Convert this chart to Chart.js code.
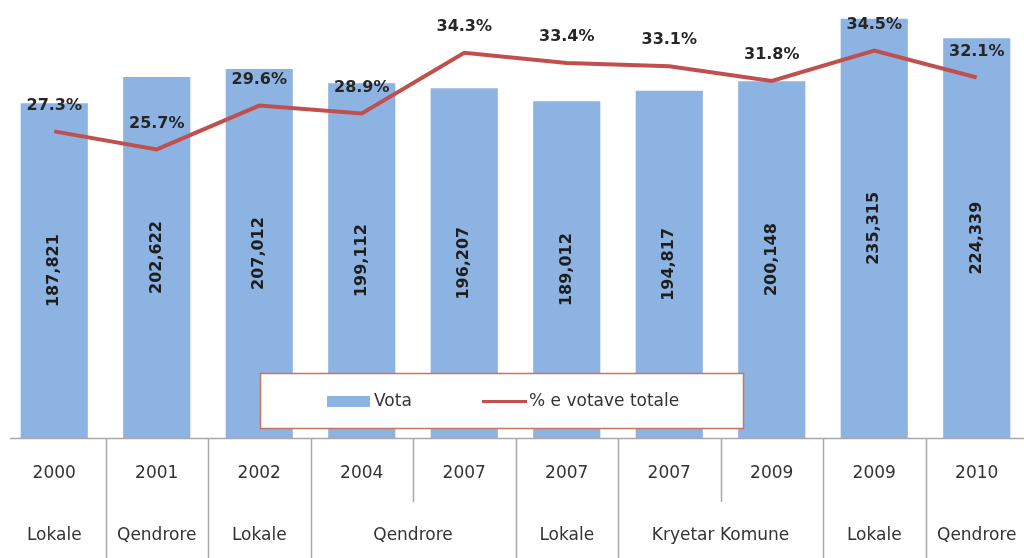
<!DOCTYPE html>
<html><head><meta charset="utf-8">
<script src="https://cdn.jsdelivr.net/npm/chart.js@4"></script>
<style>html,body{margin:0;padding:0;background:#fff;overflow:hidden}#wrap{width:1028px;height:558px}</style>
</head><body><div id="wrap"><canvas id="c" width="1028" height="558"></canvas></div>
<script>
const years = ['2000','2001','2002','2004','2007','2007','2007','2009','2009','2010'];
const types = ['Lokale','Qendrore','Lokale','Qendrore','Qendrore','Lokale','Kryetar Komune','Kryetar Komune','Lokale','Qendrore'];
const votes = [187821,202622,207012,199112,196207,189012,194817,200148,235315,224339];
const shares = [27.3,25.7,29.6,28.9,34.3,33.4,33.1,31.8,34.5,32.1];
const seriesNames = ['Vota','% e votave totale'];

const BAR = '#8db3e2', LINE = '#c0504d', TXT = '#262626', GRID = '#a8a8a8';
const FONT = '"DejaVu Sans", sans-serif';

const overlay = {
  id: 'overlay',
  afterDatasetsDraw(chart) {
    const ctx = chart.ctx;
    const area = chart.chartArea;
    const xs = chart.scales.x;
    // bar value labels
    const barMeta = chart.getDatasetMeta(1);
    ctx.save();
    ctx.fillStyle = '#1e1e1e';
    ctx.font = 'bold 16px ' + FONT;
    ctx.textAlign = 'center';
    ctx.textBaseline = 'middle';
    barMeta.data.forEach((el, i) => {
      const cy = (el.y + el.base) / 2;
      ctx.save();
      ctx.translate(el.x, cy);
      ctx.rotate(-Math.PI / 2);
      ctx.fillText(votes[i].toLocaleString('en-US'), 0, 0);
      ctx.restore();
    });
    // percent labels
    const lineMeta = chart.getDatasetMeta(0);
    ctx.fillStyle = TXT;
    lineMeta.data.forEach((el, i) => {
      ctx.fillText(shares[i].toFixed(1) + '%', el.x, el.y - 26);
    });
    // x axis line
    ctx.strokeStyle = GRID;
    ctx.lineWidth = 1.5;
    ctx.beginPath();
    ctx.moveTo(10, area.bottom + 0.5);
    ctx.lineTo(chart.width, area.bottom + 0.5);
    ctx.stroke();
    // separators
    const n = years.length;
    for (let i = 0; i < n - 1; i++) {
      const bx = Math.round((xs.getPixelForValue(i) + xs.getPixelForValue(i + 1)) / 2) + 0.5;
      const full = types[i] !== types[i + 1];
      ctx.beginPath();
      ctx.moveTo(bx, area.bottom);
      ctx.lineTo(bx, full ? chart.height : area.bottom + 64);
      ctx.stroke();
    }
    // year labels
    ctx.fillStyle = '#333333';
    ctx.font = '17px ' + FONT;
    years.forEach((y, i) => ctx.fillText(y, xs.getPixelForValue(i), area.bottom + 36));
    // group labels
    let s = 0;
    for (let i = 1; i <= n; i++) {
      if (i === n || types[i] !== types[s]) {
        const cx = (xs.getPixelForValue(s) + xs.getPixelForValue(i - 1)) / 2;
        ctx.fillText(types[s], cx, area.bottom + 98);
        s = i;
      }
    }
    // legend
    ctx.fillStyle = '#ffffff';
    ctx.fillRect(260, 373, 483, 55);
    ctx.strokeStyle = '#c9745f';
    ctx.lineWidth = 1.5;
    ctx.strokeRect(260.5, 373.5, 483, 55);
    ctx.fillStyle = BAR;
    ctx.fillRect(327, 396, 43, 11);
    ctx.strokeStyle = LINE;
    ctx.lineWidth = 3;
    ctx.beginPath();
    ctx.moveTo(482, 401.5);
    ctx.lineTo(527, 401.5);
    ctx.stroke();
    ctx.fillStyle = '#333333';
    ctx.font = '17px ' + FONT;
    ctx.textAlign = 'left';
    ctx.fillText(seriesNames[0], 374, 402);
    ctx.fillText(seriesNames[1], 529, 402);
    ctx.restore();
  }
};

new Chart(document.getElementById('c'), {
  data: {
    labels: years.map((y, i) => y + ' ' + types[i]),
    datasets: [
      { type: 'line', label: seriesNames[1], data: shares, yAxisID: 'y2', borderColor: LINE,
        borderWidth: 4, pointRadius: 0, tension: 0, order: 0 },
      { type: 'bar', label: seriesNames[0], data: votes, yAxisID: 'y', backgroundColor: BAR,
        categoryPercentage: 1, barPercentage: 0.655, order: 1 }
    ]
  },
  options: {
    responsive: false,
    animation: false,
    devicePixelRatio: 1,
    layout: { padding: { left: 3, right: 0, top: 0, bottom: 120 } },
    plugins: { legend: { display: false }, tooltip: { enabled: false }, title: { display: false } },
    scales: {
      x: { display: false },
      y: { display: false, min: 0, max: 245800 },
      y2: { display: false, min: 0, max: 39 }
    }
  },
  plugins: [overlay]
});
</script>
</body></html>
